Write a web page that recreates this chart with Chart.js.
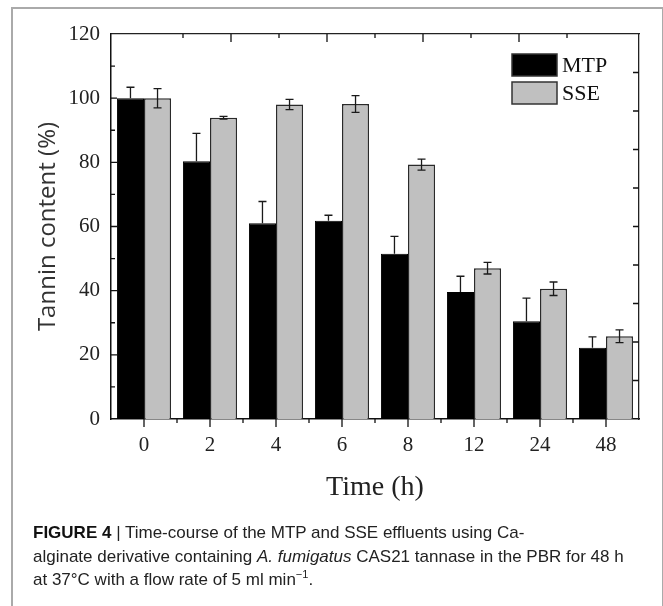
<!DOCTYPE html>
<html>
<head>
<meta charset="utf-8">
<script src="https://cdn.jsdelivr.net/npm/chart.js@4.4.0/dist/chart.umd.min.js"></script>
<style>
  html, body { margin: 0; padding: 0; background: #fff; }
  body { width: 663px; height: 606px; position: relative; overflow: hidden; }
  #chart { position: absolute; left: 0; top: 0; }
  .frame { position: absolute; left: 11px; top: 7px; width: 649px; height: 640px; border: 2px solid #aaa; }
  .caption {
    position: absolute; left: 33px; top: 521px;
    font-family: "Liberation Sans", Arial, sans-serif; font-size: 17px; line-height: 23.5px;
    color: #222; white-space: nowrap;
  }
  .caption b { font-weight: bold; color: #111; }
</style>
</head>
<body>
<canvas id="chart" width="663" height="510"></canvas>
<div class="frame"></div>
<div class="caption">
  <b>FIGURE 4</b> | Time-course of the MTP and SSE effluents using Ca-<br>
  alginate derivative containing <i>A. fumigatus</i> CAS21 tannase in the PBR for 48 h<br>
  at 37°C with a flow rate of 5 ml min<sup style="font-size:11px;line-height:0">−1</sup>.
</div>
<script>
/* Data */
const categories = ['0', '2', '4', '6', '8', '12', '24', '48'];
const mtpValues = [100, 80.3, 61, 61.8, 51.5, 39.6, 30.5, 22.2];
const mtpErrors = [3.4, 8.7, 6.8, 1.7, 5.4, 4.9, 7.2, 3.4];
const sseValues = [100, 93.9, 98.0, 98.2, 79.3, 47.0, 40.6, 25.8];
const sseErrors = [3.0, 0.4, 1.6, 2.6, 1.7, 1.8, 2.1, 2.0];
const errorSets = [mtpErrors, sseErrors];
// the MTP whiskers only show above the black bars
const bothSides = [false, true];

const serif = '"Liberation Serif", "Times New Roman", serif';

/* Error bars */
const errorBars = {
  id: 'errorBars',
  afterDatasetsDraw(chart) {
    const ctx = chart.ctx;
    const y = chart.scales.y;
    ctx.save();
    ctx.strokeStyle = '#1a1a1a';
    ctx.lineWidth = 1.3;
    chart.data.datasets.forEach(function (ds, i) {
      const meta = chart.getDatasetMeta(i);
      meta.data.forEach(function (bar, j) {
        const v = ds.data[j];
        const e = errorSets[i][j];
        const top = y.getPixelForValue(v + e);
        const bot = bothSides[i] ? y.getPixelForValue(v - e) : y.getPixelForValue(v);
        ctx.beginPath();
        ctx.moveTo(bar.x, top); ctx.lineTo(bar.x, bot);
        ctx.moveTo(bar.x - 4, top); ctx.lineTo(bar.x + 4, top);
        if (bothSides[i]) {
          ctx.moveTo(bar.x - 4, bot); ctx.lineTo(bar.x + 4, bot);
        }
        ctx.stroke();
      });
    });
    ctx.restore();
  }
};

/* Tick marks on all four sides of the box */
const axisTicks = {
  id: 'axisTicks',
  afterDraw(chart) {
    const ctx = chart.ctx;
    const a = chart.chartArea;
    const s = chart.scales;
    ctx.save();
    ctx.strokeStyle = '#111';
    ctx.lineWidth = 1.3;
    ctx.beginPath();
    for (let v = 10; v < 120; v += 10) {
      const py = s.y.getPixelForValue(v);
      ctx.moveTo(a.left, py); ctx.lineTo(a.left + (v % 20 === 0 ? 6 : 4), py);
    }
    for (let i = 0; i < categories.length; i++) {
      const px = s.x.getPixelForValue(i);
      ctx.moveTo(px, a.bottom); ctx.lineTo(px, a.bottom + 8);
      if (i > 0) {
        const pb = s.x.getPixelForValue(i - 0.5);
        ctx.moveTo(pb, a.bottom); ctx.lineTo(pb, a.bottom + 4);
      }
    }
    for (let v = 0.5; v < 5; v += 0.5) {
      const px = s.x2.getPixelForValue(v);
      ctx.moveTo(px, a.top); ctx.lineTo(px, a.top + (v % 1 === 0 ? 8 : 4));
    }
    for (let v = 1; v < 10; v++) {
      const py = s.y2.getPixelForValue(v);
      ctx.moveTo(a.right, py); ctx.lineTo(a.right - 6, py);
    }
    ctx.stroke();
    ctx.restore();
  }
};

/* Legend inside the plot, top right */
const boxLegend = {
  id: 'boxLegend',
  afterDraw(chart) {
    const ctx = chart.ctx;
    const a = chart.chartArea;
    ctx.save();
    chart.data.datasets.forEach(function (ds, i) {
      const bx = a.right - 127;
      const by = a.top + 20 + i * 28;
      ctx.fillStyle = ds.backgroundColor;
      ctx.fillRect(bx, by, 45, 22);
      ctx.strokeStyle = '#333';
      ctx.lineWidth = 1.5;
      ctx.strokeRect(bx, by, 45, 22);
      ctx.fillStyle = '#111';
      ctx.font = '22px ' + serif;
      ctx.textBaseline = 'middle';
      ctx.fillText(ds.label, bx + 50, by + 12);
    });
    ctx.restore();
  }
};

new Chart(document.getElementById('chart'), {
  type: 'bar',
  data: {
    labels: categories,
    datasets: [{
      label: 'MTP',
      data: mtpValues,
      backgroundColor: '#000000',
      borderColor: '#000000',
      borderWidth: 1
    }, {
      label: 'SSE',
      data: sseValues,
      backgroundColor: '#c0c0c0',
      borderColor: '#2a2a2a',
      borderWidth: 1.5
    }]
  },
  options: {
    responsive: false,
    animation: false,
    layout: { padding: 0 },
    categoryPercentage: 0.82,
    barPercentage: 1,
    plugins: {
      legend: { display: false },
      tooltip: { enabled: false }
    },
    scales: {
      x: {
        position: 'bottom',
        grid: { display: false, drawTicks: false },
        border: { display: true, color: '#111', width: 1.5 },
        ticks: { color: '#222', padding: 14, font: { family: serif, size: 21 } },
        title: {
          display: true, text: 'Time (h)', color: '#222',
          font: { family: serif, size: 28 }, padding: { top: 0, bottom: 6 }
        },
        afterFit: function (s) { s.height = 91; }
      },
      x2: {
        type: 'linear', position: 'top', min: 0, max: 5,
        grid: { display: false, drawTicks: false },
        border: { display: true, color: '#222', width: 1.3 },
        ticks: { display: false },
        afterFit: function (s) { s.height = 34; }
      },
      y: {
        position: 'left', min: 0, max: 120,
        grid: { display: false, drawTicks: false },
        border: { display: true, color: '#111', width: 1.5 },
        ticks: { stepSize: 20, color: '#222', padding: 11, font: { family: serif, size: 21 } },
        title: {
          display: true, text: 'Tannin content (%)', color: '#333',
          font: { family: '"Open Sans", sans-serif', size: 24 }, padding: { top: 34, bottom: 0 }
        },
        afterFit: function (s) { s.width = 111; }
      },
      y2: {
        type: 'linear', position: 'right', min: 0, max: 10,
        grid: { display: false, drawTicks: false },
        border: { display: true, color: '#222', width: 1.3 },
        ticks: { display: false },
        afterFit: function (s) { s.width = 24; }
      }
    }
  },
  plugins: [errorBars, axisTicks, boxLegend]
});
</script>
</body>
</html>
